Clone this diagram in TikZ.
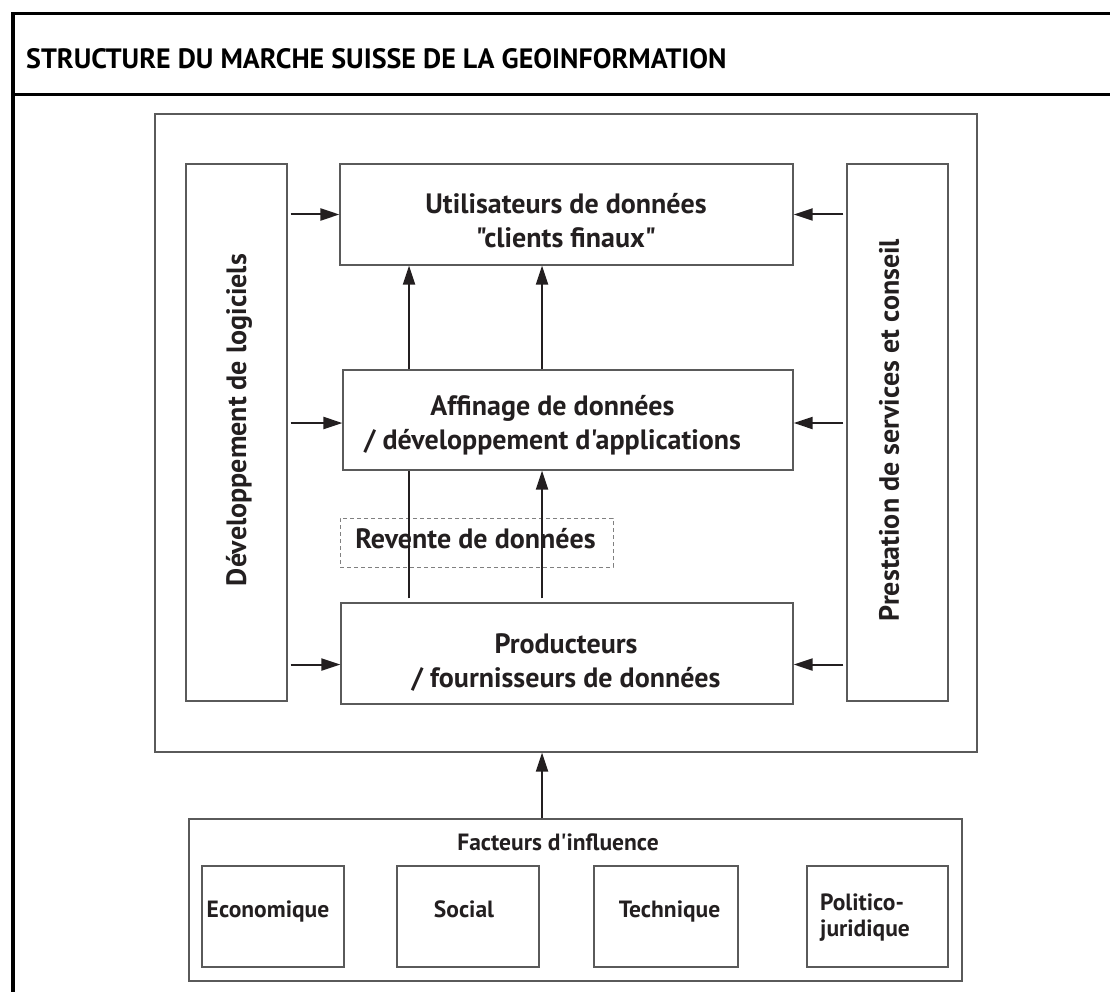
\documentclass[tikz,border=0pt]{standalone}
\usepackage{fontspec}
\newfontfamily\labfont{PT Sans}
\usetikzlibrary{arrows.meta}
\definecolor{ink}{HTML}{231F20}
\definecolor{boxgray}{HTML}{5A5A5A}
\tikzset{
  frame/.style={line width=3.2pt, draw=black, line join=miter},
  box/.style={draw=boxgray, line width=1.2pt, inner sep=0pt},
  dbox/.style={box, draw=gray, line width=1pt, dash pattern=on 4pt off 3pt},
  lbl/.style={font=\labfont\bfseries\fontsize{28}{34}\selectfont, text=ink, align=center, inner sep=0pt},
  small/.style={font=\labfont\bfseries\fontsize{23.5}{26}\selectfont, text=ink, inner sep=0pt},
  ttl/.style={font=\labfont\bfseries\fontsize{28}{30}\selectfont, text=black, inner sep=0pt},
  arr/.style={draw=ink, line width=2pt, -{Triangle[length=19pt,width=12pt]}},
  plainline/.style={draw=ink, line width=2pt},
}
\begin{document}
\begin{tikzpicture}[x=1pt,y=-1pt]
\useasboundingbox (0,0) rectangle (1110,992);
% frame
\draw[frame] (1110,13.5) -- (13,13.5) -- (13,992);
\draw[frame] (13,94.5) -- (1110,94.5);
\node[ttl, anchor=base west] (title) at (26,69) {STRUCTURE DU MARCHE SUISSE DE LA GEOINFORMATION};
% boxes
\node[box, minimum width=822pt, minimum height=638pt] (big) at (566,433) {};
\node[box, minimum width=101pt, minimum height=537pt] (dev) at (236.5,432.5) {};
\node[box, minimum width=101pt, minimum height=537pt] (prest) at (897.5,432.5) {};
\node[box, minimum width=453pt, minimum height=101pt] (util) at (566.5,214.5) {};
\node[box, minimum width=450pt, minimum height=100pt] (aff) at (568,420) {};
\node[dbox, minimum width=273pt, minimum height=49pt] (rev) at (476.5,542.5) {};
\node[box, minimum width=452pt, minimum height=101pt] (prod) at (567,653.5) {};
\node[box, minimum width=773pt, minimum height=162pt] (fact) at (575.5,900) {};
\node[box, minimum width=142pt, minimum height=101pt] (eco) at (273,916.5) {};
\node[box, minimum width=142pt, minimum height=101pt] (soc) at (468,916.5) {};
\node[box, minimum width=144pt, minimum height=101pt] (tech) at (666,916.5) {};
\node[box, minimum width=141pt, minimum height=101pt] (pol) at (877.5,916.5) {};
% texts
\node[lbl, rotate=90] (devT) at (239,420) {Développement de logiciels};
\node[lbl, rotate=90] (prestT) at (889,430) {Prestation de services et conseil};
\node[lbl] (utilT) at (566,221) {Utilisateurs de données\\"clients finaux"};
\node[lbl] (affT) at (552.5,425) {Affinage de données\\/ développement d'applications};
\node[lbl] (revT) at (475.5,538.5) {Revente de données};
\node[lbl] (prodT) at (566,663) {Producteurs\\/ fournisseurs de données};
\node[small, anchor=base] (factT) at (558,850) {Facteurs d'influence};
\node[small, anchor=base] (ecoT) at (268,917) {Economique};
\node[small, anchor=base] (socT) at (464,917) {Social};
\node[small, anchor=base] (techT) at (669.5,917) {Technique};
\node[small, anchor=west, align=left] (polT) at (820,918) {Politico-\\juridique};
% connectors
\coordinate (xa) at (409,0);
\coordinate (xb) at (542,0);
\draw[arr] ([xshift=3pt]dev.east |- util.west) -- (util.west);
\draw[arr] ([xshift=-3pt]prest.west |- util.east) -- (util.east);
\draw[arr] ([xshift=3pt,yshift=-3pt]dev.east |- aff.west) -- ([yshift=-3pt]aff.west);
\draw[arr] ([xshift=-3pt,yshift=-3pt]prest.west |- aff.east) -- ([yshift=-3pt]aff.east);
\draw[arr] ([xshift=3pt,yshift=-11pt]dev.east |- prod.west) -- ([yshift=-11pt]prod.west);
\draw[arr] ([xshift=-3pt,yshift=-11pt]prest.west |- prod.east) -- ([yshift=-11pt]prod.east);
\draw[arr] (aff.north -| xa) -- (util.south -| xa);
\draw[arr] (aff.north -| xb) -- (util.south -| xb);
\draw[plainline] ([yshift=4pt]prod.north -| xa) -- (aff.south -| xa);
\draw[arr] ([yshift=4pt]prod.north -| xb) -- (aff.south -| xb);
\draw[arr] (fact.north -| xb) -- (big.south -| xb);
\end{tikzpicture}
\end{document}
